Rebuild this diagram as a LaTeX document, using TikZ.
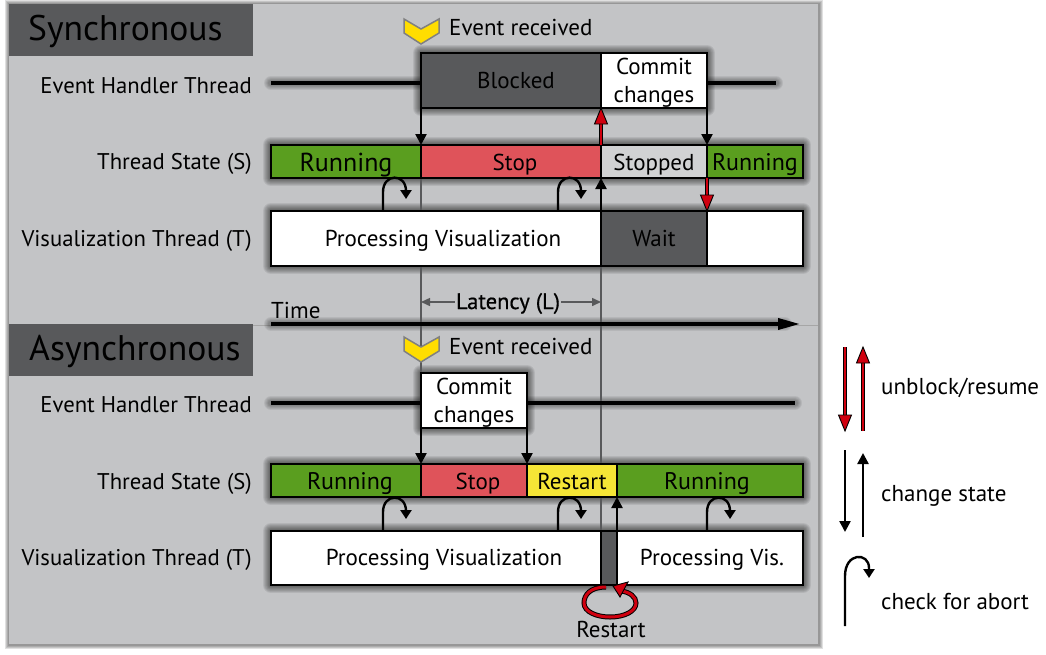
\documentclass[tikz,border=0pt]{standalone}
\usepackage{fontspec}
\setmainfont{PT Sans}
\newfontfamily\fatfont[FakeBold=0.6]{PT Sans}
\usetikzlibrary{arrows.meta,calc}
\definecolor{panelc}{HTML}{C3C4C6}
\definecolor{darkc}{HTML}{58595B}
\definecolor{greenc}{HTML}{5A9E1F}
\definecolor{stopc}{HTML}{DF535A}
\definecolor{restartc}{HTML}{F5E536}
\definecolor{stoppedc}{HTML}{D1D2D3}
\definecolor{redc}{HTML}{D0000F}
\definecolor{chevc}{HTML}{FFDD00}
\tikzset{
  x=1pt,y=-1pt,
  cellbox/.style={draw=black,line width=2.4pt,outer sep=0pt,inner sep=0pt},
  celltext/.style={inner sep=0pt,font=\fontsize{23}{28}\selectfont,align=center},
  head/.style={fill=darkc,outer sep=0pt,inner sep=0pt},
  headtext/.style={anchor=west,inner sep=0pt,font=\fontsize{35.6}{40}\selectfont},
  rowlabel/.style={anchor=base east,inner sep=0pt,font=\fontsize{22.7}{26}\selectfont},
  plain/.style={anchor=west,inner sep=0pt,font=\fontsize{23}{26}\selectfont},
  thickline/.style={draw=black,line width=4pt},
  greyline/.style={draw=darkc,line width=2.4pt},
  blackarrow/.style={draw=black,line width=2.4pt,-{Triangle[length=11pt,width=11pt]}},
  redshaft/.style={draw=black,line width=4pt},
  redinner/.style={draw=redc,line width=2pt},
  redtip/.style={draw=black,line width=.9pt,fill=redc,line join=miter},
  chkarrow/.style={draw=black,line width=2.4pt,-{Triangle[length=9pt,width=11pt]}},
  chevron/.style={draw=black!50,line width=1.5pt,fill=chevc,line join=miter},
}
\newcommand\glow[4]{\foreach \w in {16,14,12,10,8,6,4}{\draw[black,opacity=.08,line width=\w pt,line join=round] (#1,#2) rectangle (#3,#4);}}
\newcommand\glowl[4]{\foreach \w in {14,12,10,8,6}{\draw[black,opacity=.07,line width=\w pt,line cap=round] (#1,#2) -- (#3,#4);}}
\newcommand\sss{\rule[-5pt]{0pt}{20pt}}
% name x1 y1 x2 y2 colour text
\newcommand\cell[7]{%
  \pgfmathsetmacro\cx{(#2+#4)/2}\pgfmathsetmacro\cy{(#3+#5)/2}%
  \pgfmathsetmacro\cw{#4-#2}\pgfmathsetmacro\ch{#5-#3}%
  \pgfmathsetmacro\cyt{\cy+(\ch<40?3.5:2)}%
  \node[cellbox,fill=#6,minimum width=\cw pt,minimum height=\ch pt] (#1) at (\cx,\cy) {};
  \node[celltext] (#1t) at (\cx,\cyt) {\sss #7};}
\newcommand\chev[2]{\draw[chevron,shift={(#1,#2)}] (-17,-9) -- (0,1) -- (18,-9) -- (18,5) -- (0,16) -- (-17,5) -- cycle;}
\newcommand\chk[1]{\draw[chkarrow,shift={(#1)}] (0,0) -- (0,-19) .. controls (0,-38) and (23,-38) .. (23,-20) -- (23,-12);}
\newcommand\redarrow[2]{%
  \draw[redshaft] (#1) -- (#2);\draw[redinner] (#1) -- (#2);}
\begin{document}
\begin{tikzpicture}
\useasboundingbox (0,0) rectangle (1046,654);
\fill[white] (0,0) rectangle (1046,654);
% panel
\foreach \w in {9,7,5,3}{\draw[black,opacity=.12,line width=\w pt] (9,4) rectangle (818,644);}
\fill[panelc] (9,4) rectangle (818,644);
\draw[black!35,line width=.6pt] (9,325) -- (818,325);
% headers
\node[head,minimum width=244pt,minimum height=52pt] (hs) at (131,30) {};
\node[head,minimum width=244pt,minimum height=52pt] (ha) at (131,350) {};
\node[headtext] (hst) at (28,31) {Synchronous};
\node[headtext] (hat) at (29,351) {Asynchronous};
% row labels
\node[rowlabel] (l1) at (252,93.5) {Event Handler Thread};
\node[rowlabel] (l2) at (252,169.5) {Thread State (S)};
\node[rowlabel] (l3) at (252,246.5) {Visualization Thread (T)};
\node[rowlabel] (l4) at (252,412.5) {Event Handler Thread};
\node[rowlabel] (l5) at (252,489.5) {Thread State (S)};
\node[rowlabel] (l6) at (252,565.5) {Visualization Thread (T)};
% glows
\glow{421}{53}{707}{108}\glow{271}{145}{803}{178}\glow{271}{211}{803}{266}
\glow{421}{373}{527}{428}\glow{271}{464}{803}{497}\glow{271}{531}{803}{585}
\glowl{271}{83}{421}{83}\glowl{707}{83}{776}{83}
\glowl{271}{403}{795}{403}\glowl{271}{324}{785}{324}
% grey guide lines
\coordinate (g1) at (421,178);\coordinate (g2) at (421,373);
\coordinate (g3) at (601,266);\coordinate (g4) at (601,531);
\draw[greyline] (g1) -- (g2);
\draw[greyline] (g3) -- (g4);
% sync cells
\cell{blocked}{421}{53}{601}{108}{darkc}{\hspace*{10pt}Blocked}
\cell{commit}{601}{53}{707}{108}{white}{Commit\\changes}
\cell{s1}{271}{145}{421}{178}{greenc}{\fontsize{26}{28}\selectfont\sss Running}
\cell{s2}{421}{145}{601}{178}{stopc}{\hspace*{8pt}Stop}
\cell{s3}{601}{145}{707}{178}{stoppedc}{Stopped}
\cell{s4}{707}{145}{803}{178}{greenc}{\fontsize{24}{28}\selectfont\sss Running}
\cell{v1}{271}{211}{601}{266}{white}{\hspace*{14pt}Processing Visualization}
\cell{v2}{601}{211}{707}{266}{darkc}{Wait}
\cell{v3}{707}{211}{803}{266}{white}{}
% async cells
\cell{acommit}{421}{373}{527}{428}{white}{Commit\\changes}
\cell{a1}{271}{464}{421}{497}{greenc}{\hspace*{8pt}\fontsize{24}{28}\selectfont\sss Running}
\cell{a2}{421}{464}{527}{497}{stopc}{\hspace*{8pt}Stop}
\cell{a3}{527}{464}{617}{497}{restartc}{Restart}
\cell{a4}{617}{464}{803}{497}{greenc}{\hspace*{-6pt}\fontsize{24}{28}\selectfont\sss Running}
\cell{b1}{271}{531}{601}{585}{white}{\hspace*{16pt}Processing Visualization}
\cell{b2}{601}{531}{617}{585}{darkc}{}
\cell{b3}{617}{531}{803}{585}{white}{\hspace*{4pt}Processing Vis.}
% handler lines
\coordinate (e1) at (271,83);\coordinate (e2) at (776,83);
\coordinate (e3) at (271,403);\coordinate (e4) at (795,403);
\draw[thickline] (e1) -- (blocked.west |- e1);
\draw[thickline] (commit.east |- e2) -- (e2);
\draw[thickline] (e3) -- (acommit.west |- e3);
\draw[thickline] (acommit.east |- e4) -- (e4);
% sync arrows
\draw[blackarrow] (blocked.south west) -- (s2.north west);
\draw[blackarrow] (commit.south east) -- (s4.north west);
\draw[blackarrow] (v2.north west) -- (s3.south west);
\draw[draw=black,line width=3.5pt] (s3.north west) -- (601,120);
\draw[redinner] (s3.north west) -- (601,120);
\draw[redtip] (blocked.south east) -- (607.5,124) -- (594.5,124) -- cycle;
\draw[draw=black,line width=3.5pt] (s4.south west) -- (707,196);
\draw[redinner] (s4.south west) -- (707,196);
\draw[redtip] (v3.north west) -- (700.5,195) -- (713.5,195) -- cycle;
% async arrows
\draw[blackarrow] (acommit.south west) -- (a2.north west);
\draw[blackarrow] (acommit.south east) -- (a3.north west);
\draw[blackarrow] (b3.north west) -- (a4.south west);
% abort checks
\coordinate (c1) at (383,211);\coordinate (c2) at (558,211);
\coordinate (c3) at (383,531);\coordinate (c4) at (558,531);\coordinate (c5) at (707,531);
\chk{c1}\chk{c2}\chk{c3}\chk{c4}\chk{c5}
% chevrons and event text
\chev{421}{28}\chev{421}{346}
\node[plain] (ev1) at (449,27) {Event received};
\node[plain] (ev2) at (449,346) {Event received};
% time
\coordinate (t1) at (271,324);\coordinate (t2) at (800,324);
\draw[draw=black,line width=3.5pt,-{Triangle[length=22pt,width=11pt]}] (t1) -- (t2);
\node[plain] (time) at (271,310) {Time};
% latency
\coordinate (la) at (421,302);\coordinate (lb) at (601,302);
\draw[draw=darkc,line width=1.5pt,{Triangle[length=9pt,width=8pt]}-{Triangle[length=9pt,width=8pt]}] (la) -- (lb);
\node[fill=panelc,inner sep=1pt,font=\fontsize{22.5}{26}\fatfont] (lat) at (508,303.5) {Latency (L)};
% restart loop
\coordinate (r1) at (606,587);\coordinate (r2) at (621,591);
\draw[draw=black,line width=5pt] (r1) .. controls (590,587) and (584,595) .. (584,603) .. controls (584,612) and (597,617) .. (610,617) .. controls (625,617) and (636,611) .. (636,603) .. controls (636,597) and (630,592) .. (r2);
\draw[draw=redc,line width=3pt] (r1) .. controls (590,587) and (584,595) .. (584,603) .. controls (584,612) and (597,617) .. (610,617) .. controls (625,617) and (636,611) .. (636,603) .. controls (636,597) and (630,592) .. (r2);
\draw[redtip] (b2.south east) ++(-4,1) -- (628,582) -- (620,597) -- cycle;
\node[inner sep=0pt,font=\fontsize{23}{26}\selectfont] (rt) at (611,629) {Restart};
% legend
\coordinate (k1) at (845,347);\coordinate (k2) at (845,431);
\coordinate (k3) at (863,431);\coordinate (k4) at (863,347);
\coordinate (k1b) at (845,415);\coordinate (k4b) at (863,362);
\redarrow{k1}{k1b}\draw[redtip] (k2) -- (838.5,415) -- (851.5,415) -- cycle;
\redarrow{k3}{k4b}\draw[redtip] (k4) -- (856.5,363) -- (869.5,363) -- cycle;
\coordinate (k5) at (845,450);\coordinate (k6) at (845,532);
\coordinate (k7) at (863,537);\coordinate (k8) at (863,453);
\draw[blackarrow] (k5) -- (k6);
\draw[blackarrow] (k7) -- (k8);
\coordinate (k9) at (845,626);
\draw[chkarrow] (k9) -- (845,576) .. controls (845,552) and (869,552) .. (869,568) -- (869,578);
\node[plain] (u1) at (881,388) {unblock/resume};
\node[plain] (u2) at (881,496) {change state};
\node[plain] (u3) at (881,602) {check for abort};
\end{tikzpicture}
\end{document}
